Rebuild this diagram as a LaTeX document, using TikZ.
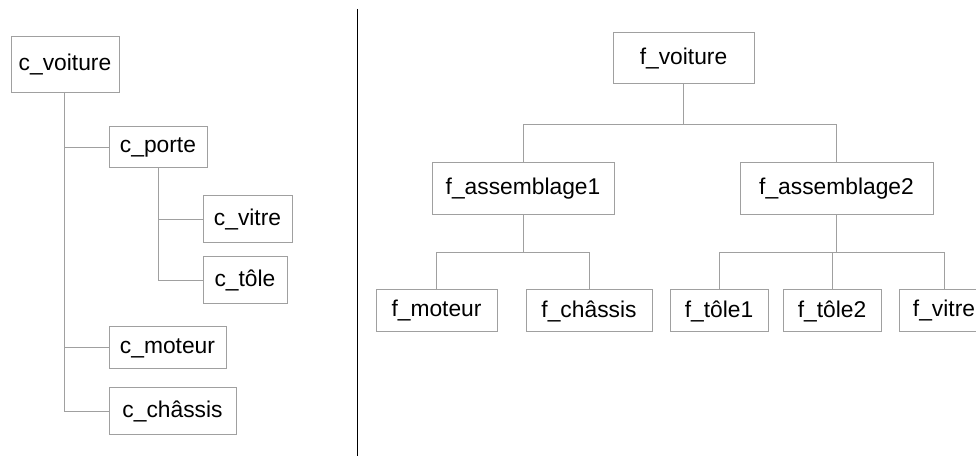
\documentclass[tikz,border=0pt]{standalone}
\usepackage{fontspec}
\setmainfont{Liberation Sans}
\definecolor{lgray}{RGB}{160,160,160}
\begin{document}
\begin{tikzpicture}[x=0.75pt,y=-0.75pt,
  box/.style 2 args={draw=lgray, line width=0.75pt, minimum width=#1*0.75pt, minimum height=#2*0.75pt, inner sep=0pt, font=\fontsize{17.1}{20}\selectfont},
  link/.style={draw=lgray, line width=0.75pt}]
\useasboundingbox (0,0) rectangle (976,459);
% left tree
\node[box={108}{56}] (cv) at (65,65) {c\_voiture};
\node[box={98}{41}] (cp) at (158,147.5) {c\_porte};
\node[box={89}{47}] (cvi) at (247.5,219.5) {c\_vitre};
\node[box={84}{47}] (ct) at (245,280.5) {c\_tôle};
\node[box={117}{42}] (cm) at (167.5,348) {c\_moteur};
\node[box={127}{47}] (cc) at (172.5,411.5) {c\_châssis};
\coordinate (spine) at (64,93);
\draw[link] (spine) |- (cp.west);
\draw[link] (spine) |- (cm.west);
\draw[link] (spine) |- (cc.west);
\draw[link] (cp.south) |- (cvi.west);
\draw[link] (cp.south) |- (ct.west);
% divider
\coordinate (d1) at (357,9);
\coordinate (d2) at (357,456);
\draw[black, line width=0.75pt] (d1) -- (d2);
% right tree
\node[box={141}{51}] (fv) at (683.5,58.5) {f\_voiture};
\node[box={182}{52}] (fa1) at (523,189) {f\_assemblage1};
\node[box={193}{52}] (fa2) at (836.5,189) {f\_assemblage2};
\node[box={121}{42}] (fm) at (436.5,311) {f\_moteur};
\node[box={126}{42}] (fc) at (589,311) {f\_châssis};
\node[box={98}{42}] (ft1) at (719,311) {f\_tôle1};
\node[box={98}{42}] (ft2) at (832,311) {f\_tôle2};
\node[box={90}{42}] (fvi) at (944,311) {f\_vitre};
\draw[link] (fv.south) -- ++(0,40) -| (fa1.north);
\draw[link] (fv.south) -- ++(0,40) -| (fa2.north);
\draw[link] (fa1.south) -- ++(0,37) -| (fm.north);
\draw[link] (fa1.south) -- ++(0,37) -| (fc.north);
\draw[link] (fa2.south) -- ++(0,37) -| (ft1.north);
\draw[link] (fa2.south) -- ++(0,37) -| (ft2.north);
\draw[link] (fa2.south) -- ++(0,37) -| (fvi.north);
\end{tikzpicture}
\end{document}
